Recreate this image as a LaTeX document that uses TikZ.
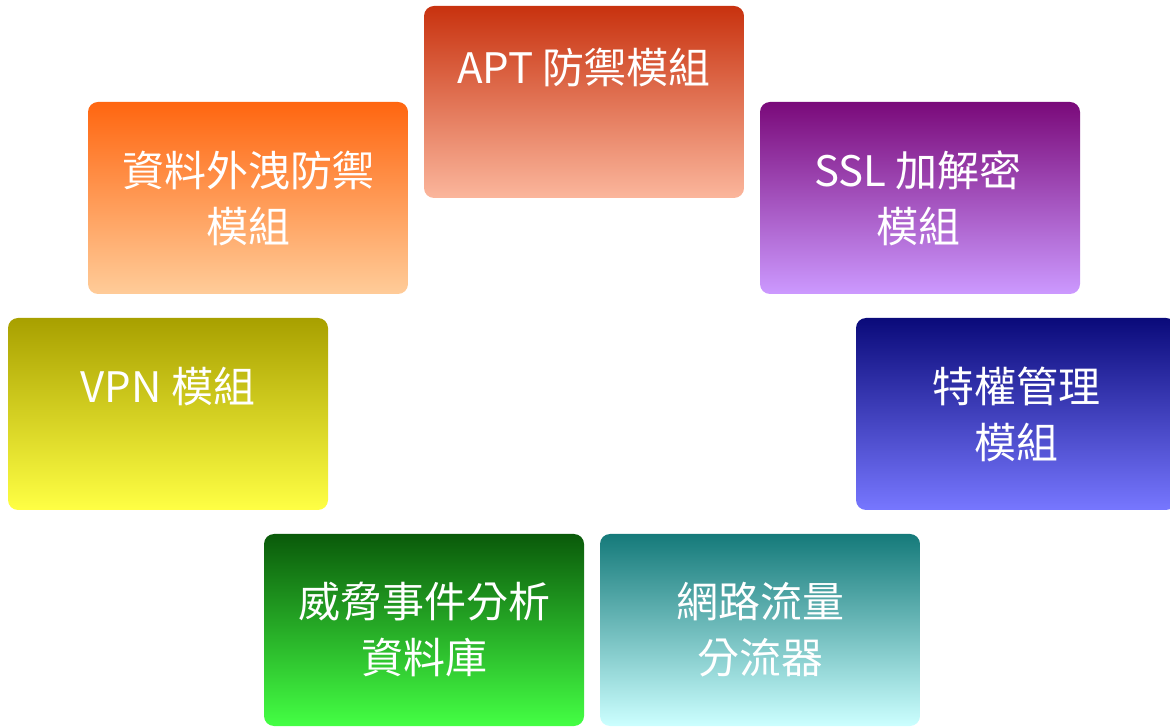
\documentclass[tikz,border=0pt]{standalone}
\usepackage{fontspec}
\newfontfamily\cjk{Noto Sans CJK TC}
\definecolor{aTop}{HTML}{C8320F}\definecolor{aBot}{HTML}{FBB69C}
\definecolor{bTop}{HTML}{FF6610}\definecolor{bBot}{HTML}{FFCC99}
\definecolor{cTop}{HTML}{7A0A7A}\definecolor{cBot}{HTML}{CC99FF}
\definecolor{dTop}{HTML}{A8A000}\definecolor{dBot}{HTML}{FFFF44}
\definecolor{eTop}{HTML}{0A0A7A}\definecolor{eBot}{HTML}{7777FF}
\definecolor{fTop}{HTML}{0A5A0A}\definecolor{fBot}{HTML}{44FF44}
\definecolor{gTop}{HTML}{157A7A}\definecolor{gBot}{HTML}{CCFFFF}
\tikzset{
  modbox/.style n args={2}{rectangle, rounded corners=10pt, minimum width=320pt, minimum height=192pt, inner sep=0pt, top color=#1, bottom color=#2},
  modtext/.style={text=white, align=center, inner sep=0pt, font=\cjk\fontsize{42}{56}\selectfont}
}
\begin{document}
\begin{tikzpicture}[x=1pt,y=1pt]
\useasboundingbox (0,0) rectangle (1170,726);
\node[modbox={aTop}{aBot}] (apt) at (584,624) {};
\node[modbox={bTop}{bBot}] (dlp) at (248,528) {};
\node[modbox={cTop}{cBot}] (ssl) at (920,528) {};
\node[modbox={dTop}{dBot}] (vpn) at (168,312) {};
\node[modbox={eTop}{eBot}] (pam) at (1016,312) {};
\node[modbox={fTop}{fBot}] (db) at (424,96) {};
\node[modbox={gTop}{gBot}] (tap) at (760,96) {};
\node[modtext] (aptT) at ([yshift=-62pt]apt.north) {APT 防禦模組};
\node[modtext] (dlpT) at (dlp.center) {資料外洩防禦\\模組};
\node[modtext] (sslT) at ([xshift=-2pt]ssl.center) {SSL 加解密\\模組};
\node[modtext] (vpnT) at ([yshift=-69pt]vpn.north) {VPN 模組};
\node[modtext] (pamT) at (pam.center) {特權管理\\模組};
\node[modtext] (dbT) at (db.center) {威脅事件分析\\資料庫};
\node[modtext] (tapT) at (tap.center) {網路流量\\分流器};
\end{tikzpicture}
\end{document}
